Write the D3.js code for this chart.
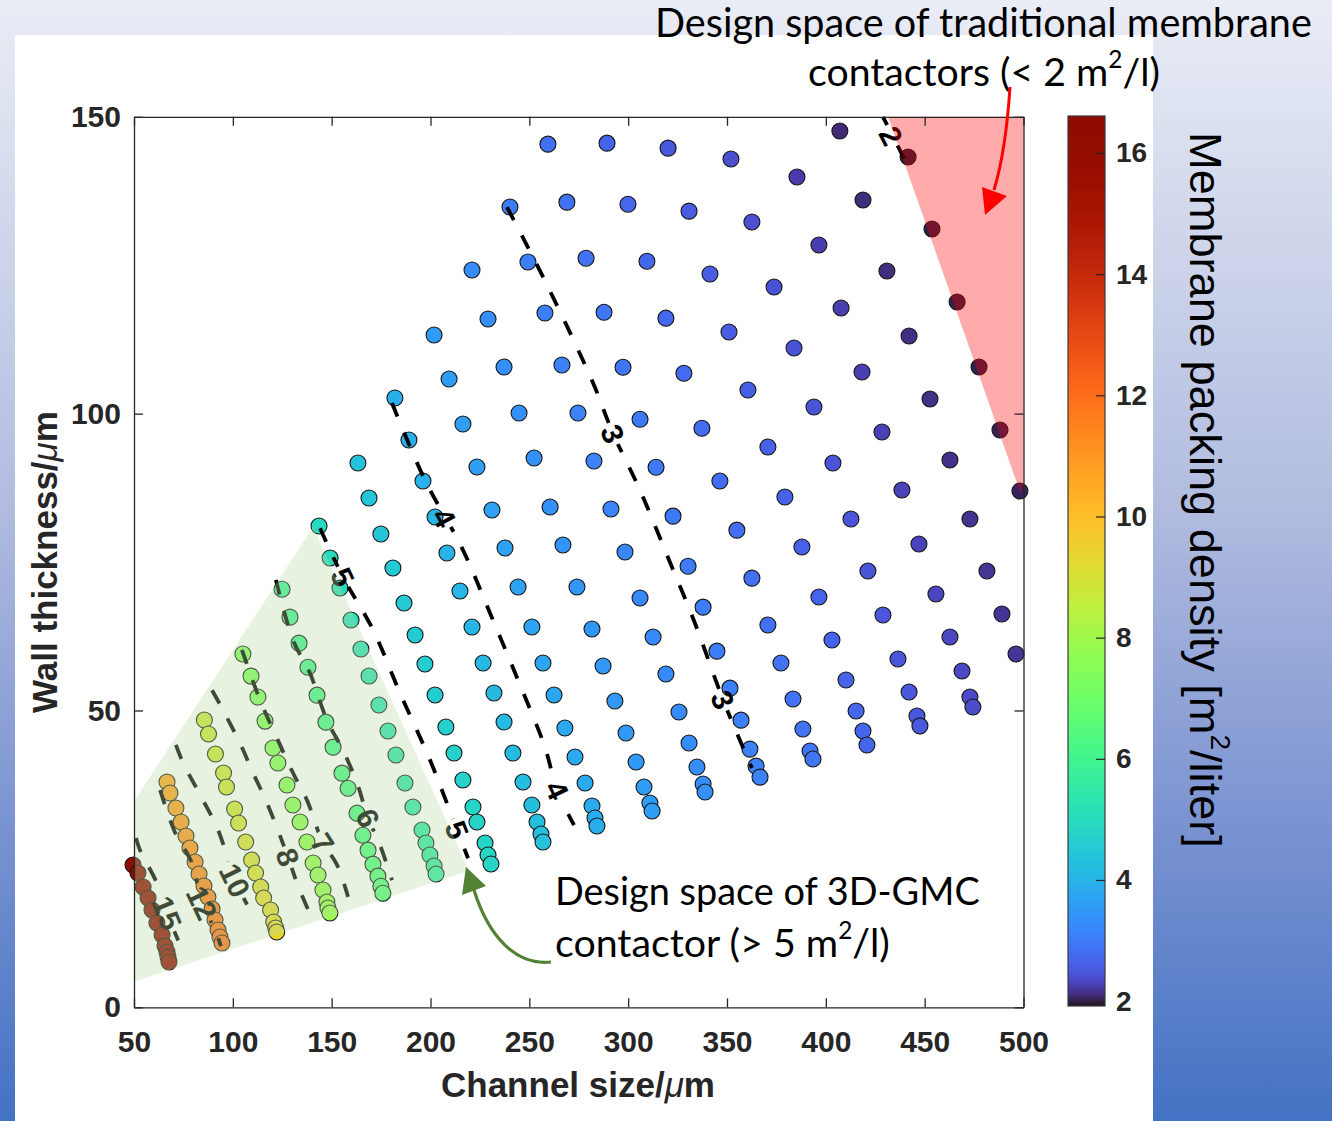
<!DOCTYPE html>
<html>
<head>
<meta charset="utf-8">
<script src="https://cdn.jsdelivr.net/npm/d3@7"></script>
<style>
  html, body { margin: 0; padding: 0; background: #ffffff; }
  svg { display: block; }
</style>
</head>
<body>
<svg id="chart" width="1332" height="1121"></svg>
<script>
// ---------------- data ----------------
const channelTicks = [50, 100, 150, 200, 250, 300, 350, 400, 450, 500];
const wallTicks = [0, 50, 100, 150];
const densityTicks = [2, 4, 6, 8, 10, 12, 14, 16];
const densityRange = [1.92, 16.61];

// geometry sweeps: [channel size (µm), wall thickness (µm), packing density (m²/l)]
const sweep15 = [[49.5,23.97,16.6],[52.0,22.62,16.5],[54.6,20.26,16.45],[57.1,18.41,16.4],[59.1,16.39,16.4],[61.6,14.20,16.35],[64.2,12.18,16.3],[65.7,10.33,16.3],[66.7,9.31,16.25],[67.2,8.47,16.2],[67.7,7.63,16.2]];
const sweep12 = [[66.7,37.95,10.7],[68.2,36.10,10.8],[71.2,33.57,10.9],[73.8,31.21,11.0],[76.3,28.85,11.1],[78.3,26.83,11.2],[80.9,24.47,11.3],[82.9,22.45,11.4],[85.4,20.43,11.5],[87.4,18.58,11.6],[89.5,16.56,11.7],[91.0,14.71,11.75],[92.5,13.02,11.8],[93.5,11.84,11.85],[94.5,10.83,11.9]];
const sweep10 = [[85.6,48.40,8.7],[87.7,46.04,8.75],[91.2,42.67,8.8],[95.3,39.47,8.85],[96.8,37.11,8.9],[100.9,33.41,8.95],[102.9,31.05,9.0],[106.5,27.85,9.05],[109.5,24.82,9.1],[111.5,22.63,9.15],[114.1,20.27,9.2],[115.6,18.42,9.25],[119.1,16.39,9.3],[120.7,14.37,9.35],[121.7,13.36,9.35],[122.2,12.69,9.4]];
const sweep8 = [[105.1,59.50,7.3],[109.2,55.79,7.35],[112.7,52.26,7.4],[116.3,48.21,7.45],[120.3,43.67,7.5],[122.8,41.14,7.52],[127.4,37.44,7.55],[130.4,34.07,7.6],[134.0,31.21,7.65],[137.5,27.84,7.7],[140.6,24.31,7.75],[143.1,22.28,7.8],[145.6,19.76,7.82],[147.6,17.74,7.85],[148.1,16.73,7.88],[149.1,15.89,7.9]];
const sweep6 = [[124.9,70.43,5.9],[128.9,65.72,5.95],[133.5,61.34,6.0],[138.0,57.29,6.05],[142.6,52.58,6.1],[147.1,48.03,6.15],[150.7,43.82,6.2],[155.2,39.44,6.25],[158.3,36.91,6.28],[162.8,32.70,6.32],[165.8,28.99,6.36],[168.4,26.47,6.4],[170.9,24.11,6.43],[173.4,22.09,6.46],[174.9,20.40,6.48],[175.9,19.22,6.5]];
const sweep5 = [[143.6,81.07,4.95],[149.2,75.68,5.0],[154.2,70.63,5.05],[159.8,65.24,5.1],[164.8,60.36,5.15],[168.9,55.81,5.2],[173.9,50.92,5.25],[178.5,46.54,5.3],[182.5,42.50,5.34],[187.1,37.78,5.38],[191.1,33.74,5.42],[195.7,29.87,5.46],[197.7,27.68,5.49],[199.7,25.66,5.51],[201.8,23.80,5.53],[202.8,22.46,5.55]];
const sweep45 = [[163.3,91.69,4.35],[168.9,85.79,4.4],[174.9,79.73,4.44],[181.0,74.00,4.48],[186.6,68.11,4.52],[192.2,62.71,4.56],[197.2,57.83,4.6],[202.3,52.61,4.64],[207.8,47.22,4.68],[211.9,42.84,4.72],[216.4,38.29,4.75],[221.5,33.74,4.78],[223.5,31.21,4.8],[227.6,27.68,4.82],[229.1,25.66,4.84],[230.6,24.14,4.85]];
const sweep38 = [[182.0,102.63,3.9],[189.1,95.56,3.93],[196.2,88.65,3.96],[202.3,82.59,3.99],[208.3,76.53,4.02],[214.9,70.12,4.05],[221.0,64.06,4.08],[226.6,58.00,4.11],[232.1,52.95,4.14],[237.2,48.06,4.17],[241.7,42.84,4.2],[246.8,37.95,4.23],[251.3,34.07,4.25],[253.9,31.21,4.27],[255.9,29.19,4.28],[256.9,27.84,4.3]];
const sweep34 = [[201.8,113.25,3.55],[209.4,105.84,3.57],[216.4,98.26,3.6],[223.5,91.02,3.62],[231.1,83.77,3.65],[237.7,77.37,3.67],[244.3,70.80,3.7],[251.3,64.06,3.72],[256.9,58.00,3.75],[262.5,52.61,3.77],[268.0,47.05,3.8],[273.1,42.17,3.82],[278.2,37.78,3.84],[281.7,33.91,3.86],[283.2,31.89,3.88],[284.2,30.54,3.9]];
const sweep31 = [[221.0,124.19,3.3],[229.1,115.94,3.32],[237.2,107.85,3.34],[244.8,100.10,3.36],[252.4,92.53,3.38],[260.5,84.27,3.4],[267.0,77.87,3.42],[274.1,70.80,3.44],[281.7,63.72,3.46],[287.3,57.49,3.48],[293.3,51.60,3.5],[298.9,46.21,3.52],[304.0,41.32,3.54],[308.0,37.11,3.56],[311.0,34.41,3.58],[312.1,33.07,3.6]];
const sweep29 = [[240.2,134.81,3.05],[249.3,125.54,3.07],[257.9,116.95,3.09],[266.5,108.19,3.11],[274.6,100.10,3.13],[282.7,92.03,3.15],[291.3,83.93,3.17],[298.4,76.69,3.19],[306.0,68.94,3.21],[312.6,62.37,3.23],[319.1,56.14,3.25],[325.7,49.74,3.27],[330.8,44.52,3.29],[334.8,40.47,3.31],[337.9,37.61,3.33],[338.9,36.26,3.35]];
const sweep27 = [[259.4,145.39,2.85],[269.0,135.62,2.87],[278.7,126.18,2.89],[287.8,117.09,2.91],[297.4,107.82,2.93],[306.0,99.06,2.95],[314.1,90.98,2.97],[322.7,82.73,2.99],[330.3,74.30,3.01],[337.9,67.40,3.03],[344.9,59.99,3.05],[351.5,53.76,3.07],[357.1,48.37,3.08],[361.6,43.49,3.1],[364.7,40.62,3.11],[366.7,38.77,3.12]];
const sweep25 = [[289.3,145.56,2.68],[299.9,135.28,2.7],[309.5,125.68,2.72],[319.1,116.08,2.74],[328.2,106.81,2.76],[337.3,97.55,2.78],[346.4,88.65,2.8],[355.0,80.37,2.82],[362.6,72.29,2.84],[370.7,64.40,2.86],[377.3,57.99,2.87],[383.4,51.93,2.88],[388.4,46.87,2.9],[392.0,43.16,2.91],[393.5,41.82,2.92]];
const sweep23 = [[320.2,144.72,2.52],[330.8,134.11,2.54],[341.4,123.51,2.56],[351.0,113.74,2.58],[360.6,103.97,2.6],[370.7,94.37,2.62],[379.3,85.95,2.64],[387.9,77.53,2.65],[396.5,69.11,2.67],[403.1,61.87,2.68],[410.2,55.12,2.69],[415.3,49.91,2.7],[418.8,46.54,2.71],[420.8,44.18,2.72]];
const sweep21 = [[352.0,142.89,2.38],[362.6,132.27,2.39],[373.8,121.33,2.41],[383.9,111.05,2.42],[394.0,101.12,2.44],[403.6,91.69,2.45],[412.7,82.26,2.46],[421.3,73.50,2.47],[428.9,66.09,2.48],[436.5,58.68,2.49],[442.1,53.12,2.5],[446.1,49.08,2.51],[447.6,47.40,2.52]];
const sweep20 = [[385.4,139.86,2.24],[396.5,128.40,2.25],[407.7,117.79,2.26],[418.3,107.01,2.27],[428.4,96.90,2.28],[438.5,87.14,2.29],[447.1,78.04,2.3],[455.7,69.62,2.31],[462.8,62.37,2.32],[468.9,56.65,2.33],[472.9,52.27,2.35],[474.4,50.58,2.36]];
const sweep19 = [[407.1,147.61,2.1],[418.8,135.99,2.11],[430.9,124.03,2.12],[442.1,113.08,2.13],[452.7,102.47,2.14],[462.8,92.20,2.15],[472.9,82.26,2.16],[481.5,73.50,2.17],[489.1,66.26,2.17],[496.2,59.52,2.18]];
const sweep18 = [[441.6,143.22,1.98],[453.7,131.10,1.99],[466.4,118.80,2.0],[477.5,107.85,2.01],[488.1,97.24,2.02],[498.2,86.96,2.04]];

// iso-density contours: [channel size, wall thickness]
const contour2 = [[428.9,150.0],[443.1,140.7]];
const contour3 = [[238.7,134.8],[258.9,121.7],[282.2,105.2],[292.3,96.7],[306.0,87.1],[320.1,75.8],[333.8,64.7],[348.0,51.8],[362.6,40.3]];
const contour4 = [[180.5,101.8],[197.2,88.8],[215.9,77.4],[230.1,66.4],[244.3,55.1],[257.9,43.8],[264.0,36.6],[272.6,30.7]];
const contour5 = [[144.1,80.7],[155.7,72.5],[170.9,63.6],[184.6,52.9],[199.7,41.7],[213.4,29.9],[219.0,25.1]];
const contour6 = [[121.8,72.0],[130.4,61.9],[139.0,56.3],[147.6,48.4],[155.7,43.3],[162.8,37.8],[168.4,31.9],[174.5,27.3],[180.5,21.4]];
const contour7 = [[104.6,60.2],[113.7,51.8],[122.8,45.0],[130.4,39.5],[137.5,34.9],[145.6,27.7],[152.7,24.0],[158.3,18.6]];
const contour8 = [[89.5,53.4],[94.5,50.4],[103.6,44.5],[110.2,39.5],[117.3,34.4],[127.9,25.3],[132.5,20.9],[138.5,16.1]];
const contour10 = [[71.2,44.2],[74.8,41.2],[84.9,34.9],[92.5,29.9],[101.1,21.4],[107.7,16.9],[110.2,14.7]];
const contour12 = [[63.2,36.6],[70.7,29.5],[79.3,24.3],[84.4,17.6],[91.0,13.0],[94.0,10.3]];
const contour15 = [[51.0,28.5],[53.0,26.5],[61.6,20.9],[66.7,15.9],[72.3,11.3],[74.8,9.3]];

// inline contour labels: [level, channel size, wall thickness]
const contourLabels = [[2,433.0,146.8],[3,292.3,96.6],[3,348.0,51.8],[4,207.0,82.5],[4,264.0,36.6],[5,155.7,72.5],[5,213.4,29.9],[6,168.4,31.9],[7,145.6,27.7],[8,127.9,25.3],[10,101.1,21.4],[12,84.4,17.6],[15,66.7,15.9]];

// shaded design regions: [channel size, wall thickness]
const regionGMC = [[50,34.7],[140.6,80.9],[219.5,23.0],[50,4.3]];
const regionTraditional = [[431.5,150],[500,150],[500,88],[498.3,86.8]];

// ---------------- layout ----------------
const svg = d3.select("#chart");
const W = 1332, H = 1121;
const plot = { left: 134, right: 1023.5, top: 116.8, bottom: 1007.3 };
const cbar = { x: 1068, w: 37, top: 116, bottom: 1006 };
const axisColor = "#262626";
const axisFont = "'Liberation Sans', Arial, Helvetica, sans-serif";
const noteFont = "Lato, 'Open Sans', sans-serif";

const x = d3.scaleLinear().domain([50, 500]).range([plot.left, plot.right]);
const y = d3.scaleLinear().domain([0, 150]).range([plot.bottom, plot.top]);

// turbo colormap with a non-uniform spread along the density axis
const cmapStops = [1.92, 2.4, 3, 4, 5, 6, 7, 8, 9, 10, 12, 14, 16.61];
const cmapPos   = [0, 0.09, 0.15, 0.235, 0.31, 0.38, 0.45, 0.515, 0.59, 0.66, 0.78, 0.885, 1];
const cmapT = d3.scaleLinear().domain(cmapStops).range(cmapPos).clamp(true);
const color = v => d3.interpolateTurbo(cmapT(v));

const defs = svg.append("defs");

// slide background
const bg = defs.append("linearGradient").attr("id", "slideBg")
  .attr("x1", 0).attr("y1", 0).attr("x2", 0).attr("y2", 1);
[[0, "#eaedf6"], [0.45, "#b1bcdf"], [0.72, "#7d95d2"], [1, "#4472c4"]]
  .forEach(([o, c]) => bg.append("stop").attr("offset", o).attr("stop-color", c));
svg.append("rect").attr("width", W).attr("height", H).attr("fill", "url(#slideBg)");
svg.append("rect").attr("x", 15).attr("y", 35).attr("width", 1138).attr("height", H - 35).attr("fill", "#ffffff");

// ---------------- scatter ----------------
const sweeps = [sweep15, sweep12, sweep10, sweep8, sweep6, sweep5, sweep45, sweep38, sweep34,
                sweep31, sweep29, sweep27, sweep25, sweep23, sweep21, sweep20, sweep19, sweep18];
const gPts = svg.append("g");
sweeps.forEach(s => {
  gPts.append("g").selectAll("circle").data(s).join("circle")
    .attr("cx", d => x(d[0])).attr("cy", d => y(d[1])).attr("r", 8)
    .attr("fill", d => color(d[2]))
    .attr("stroke", "#161616").attr("stroke-width", 1.1);
});

// ---------------- contours ----------------
const contours = [[2, contour2], [3, contour3], [4, contour4], [5, contour5], [6, contour6],
                  [7, contour7], [8, contour8], [10, contour10], [12, contour12], [15, contour15]];
const labelSize = 30;

function labelAngle(level, cx, cy) {
  const pts = contours.find(c => c[0] === level)[1];
  let best = null, bestD = Infinity;
  for (let i = 0; i < pts.length - 1; i++) {
    const ax = x(pts[i][0]), ay = y(pts[i][1]), bx = x(pts[i + 1][0]), by = y(pts[i + 1][1]);
    const mx = (ax + bx) / 2, my = (ay + by) / 2;
    const d = Math.hypot(mx - cx, my - cy);
    if (d < bestD) { bestD = d; best = [ax, ay, bx, by]; }
  }
  let a = Math.atan2(best[3] - best[1], best[2] - best[0]) * 180 / Math.PI;
  if (a > 90) a -= 180;
  if (a < -90) a += 180;
  return a;
}

const labels = contourLabels.map(([lv, cx, cy]) => {
  const px = x(cx), py = y(cy);
  return { text: String(lv), px, py, angle: labelAngle(lv, px, py) };
});

// gaps in the dashed lines under the inline labels
const mask = defs.append("mask").attr("id", "labelGaps").attr("maskUnits", "userSpaceOnUse")
  .attr("x", 0).attr("y", 0).attr("width", W).attr("height", H);
mask.append("rect").attr("width", W).attr("height", H).attr("fill", "#fff");
labels.forEach(l => {
  const w = l.text.length * labelSize * 0.56 + 6, h = labelSize * 0.8;
  mask.append("rect").attr("x", -w / 2).attr("y", -h / 2).attr("width", w).attr("height", h)
    .attr("fill", "#000").attr("transform", `translate(${l.px},${l.py}) rotate(${l.angle})`);
});

const line = d3.line().x(d => x(d[0])).y(d => y(d[1])).curve(d3.curveCatmullRom.alpha(0.5));
svg.append("g").attr("mask", "url(#labelGaps)")
  .selectAll("path").data(contours).join("path")
  .attr("d", d => line(d[1]))
  .attr("fill", "none").attr("stroke", "#000").attr("stroke-width", 3.8)
  .attr("stroke-dasharray", "15,17");

svg.append("g").selectAll("text").data(labels).join("text")
  .attr("transform", d => `translate(${d.px},${d.py}) rotate(${d.angle})`)
  .attr("text-anchor", "middle").attr("dy", "0.36em")
  .attr("font-family", axisFont).attr("font-weight", "bold").attr("font-size", labelSize)
  .attr("fill", "#000").text(d => d.text);

// ---------------- design-space regions ----------------
const poly = pts => "M" + pts.map(p => `${x(p[0])},${y(p[1])}`).join("L") + "Z";
svg.append("path").attr("d", poly(regionGMC)).attr("fill", "#b8dca4").attr("fill-opacity", 0.34);
svg.append("path").attr("d", poly(regionTraditional)).attr("fill", "#ff0000").attr("fill-opacity", 0.33);

// ---------------- axes ----------------
function styleAxis(g) {
  g.select(".domain").attr("stroke", axisColor).attr("stroke-width", 1.3);
  g.selectAll(".tick line").attr("stroke", axisColor).attr("stroke-width", 1.3);
  g.selectAll(".tick text").attr("fill", axisColor)
    .attr("font-family", axisFont).attr("font-weight", "bold").attr("font-size", 30);
}
svg.append("g").attr("transform", `translate(0,${plot.bottom})`)
  .call(d3.axisBottom(x).tickValues(channelTicks).tickSizeInner(-9).tickSizeOuter(0).tickPadding(23))
  .call(styleAxis);
svg.append("g").attr("transform", `translate(0,${plot.top})`)
  .call(d3.axisTop(x).tickValues(channelTicks).tickSizeInner(-9).tickSizeOuter(0).tickFormat(""))
  .call(styleAxis);
svg.append("g").attr("transform", `translate(${plot.left},0)`)
  .call(d3.axisLeft(y).tickValues(wallTicks).tickSizeInner(-9).tickSizeOuter(0).tickPadding(13))
  .call(styleAxis);
svg.append("g").attr("transform", `translate(${plot.right},0)`)
  .call(d3.axisRight(y).tickValues(wallTicks).tickSizeInner(-9).tickSizeOuter(0).tickFormat(""))
  .call(styleAxis);

// axis titles
const xTitle = svg.append("text").attr("x", 578).attr("y", 1097)
  .attr("text-anchor", "middle").attr("fill", axisColor)
  .attr("font-family", axisFont).attr("font-size", 35).attr("font-weight", "bold");
xTitle.append("tspan").text("Channel size/");
xTitle.append("tspan").attr("font-style", "italic").attr("font-weight", "normal").text("\u03bc");
xTitle.append("tspan").text("m");

const yTitle = svg.append("text").attr("transform", `translate(57,${(plot.top + plot.bottom) / 2}) rotate(-90)`)
  .attr("text-anchor", "middle").attr("fill", axisColor)
  .attr("font-family", axisFont).attr("font-size", 35).attr("font-weight", "bold");
yTitle.append("tspan").text("Wall thickness/");
yTitle.append("tspan").attr("font-style", "italic").attr("font-weight", "normal").text("\u03bc");
yTitle.append("tspan").text("m");

// ---------------- colorbar ----------------
const yc = d3.scaleLinear().domain(densityRange).range([cbar.bottom, cbar.top]);
const cg = defs.append("linearGradient").attr("id", "cbarGrad")
  .attr("x1", 0).attr("y1", 1).attr("x2", 0).attr("y2", 0);
d3.range(0, 201).forEach(i => {
  const v = densityRange[0] + (densityRange[1] - densityRange[0]) * i / 200;
  cg.append("stop").attr("offset", i / 200).attr("stop-color", color(v));
});
svg.append("rect").attr("x", cbar.x).attr("y", cbar.top).attr("width", cbar.w)
  .attr("height", cbar.bottom - cbar.top).attr("fill", "url(#cbarGrad)")
  .attr("stroke", "#3a3a3a").attr("stroke-width", 1.2);
svg.append("g").attr("transform", `translate(${cbar.x + cbar.w},0)`)
  .call(d3.axisRight(yc).tickValues(densityTicks).tickSizeInner(-9).tickSizeOuter(0).tickPadding(11))
  .call(g => {
    g.select(".domain").remove();
    g.selectAll(".tick line").attr("stroke", axisColor).attr("stroke-width", 1.2);
    g.selectAll(".tick text").attr("fill", axisColor)
      .attr("font-family", axisFont).attr("font-weight", "bold").attr("font-size", 28);
  });

// fit a text block to a measured width
function fitWidth(sel, target) {
  const fs = parseFloat(sel.attr("font-size"));
  const w = sel.node().getComputedTextLength();
  const nfs = fs * target / w;
  sel.attr("font-size", nfs);
  return nfs;
}

const cbTitle = svg.append("text").attr("transform", "translate(1190,490) rotate(90)")
  .attr("text-anchor", "middle").attr("fill", "#000")
  .attr("font-family", axisFont).attr("font-size", 45);
cbTitle.append("tspan").text("Membrane packing density [m");
cbTitle.append("tspan").attr("font-size", "0.62em").attr("dy", "-0.75em").text("2");
cbTitle.append("tspan").attr("dy", "0.47em").text("/liter]");
fitWidth(cbTitle, 716);

// ---------------- annotations ----------------
function supLine(parent, xPos, yPos, before, after, size) {
  const t = parent.append("text").attr("x", xPos).attr("y", yPos)
    .attr("font-family", noteFont).attr("font-size", size).attr("fill", "#000");
  t.append("tspan").text(before);
  t.append("tspan").attr("font-size", "0.62em").attr("dy", "-0.75em").text("2");
  t.append("tspan").attr("dy", "0.47em").text(after);
  return t;
}

const topNote1 = svg.append("text").attr("x", 655).attr("y", 37)
  .attr("font-family", noteFont).attr("font-size", 37).attr("fill", "#000")
  .text("Design space of traditional membrane");
fitWidth(topNote1, 657);
const topNote2 = supLine(svg, 808, 86, "contactors (< 2 m", "/l)", 37);
fitWidth(topNote2, 352);

const gmcNote1 = svg.append("text").attr("x", 555).attr("y", 905)
  .attr("font-family", noteFont).attr("font-size", 37).attr("fill", "#000")
  .text("Design space of 3D-GMC");
fitWidth(gmcNote1, 425);
const gmcNote2 = supLine(svg, 555, 957, "contactor (> 5 m", "/l)", 37);
fitWidth(gmcNote2, 335);

// red arrow toward the traditional region
svg.append("path").attr("d", "M1010,87 Q1006,150 994,190")
  .attr("fill", "none").attr("stroke", "#ff0000").attr("stroke-width", 3);
svg.append("path").attr("d", "M982,187 L1007,196 L985,215 Z").attr("fill", "#ff0000");

// green arrow toward the 3D-GMC region
svg.append("path").attr("d", "M551,962 C515,966 488,935 474,890")
  .attr("fill", "none").attr("stroke", "#548235").attr("stroke-width", 3.2);
svg.append("path").attr("d", "M462,895 L486,886 L466,867 Z").attr("fill", "#548235");
</script>
</body>
</html>
